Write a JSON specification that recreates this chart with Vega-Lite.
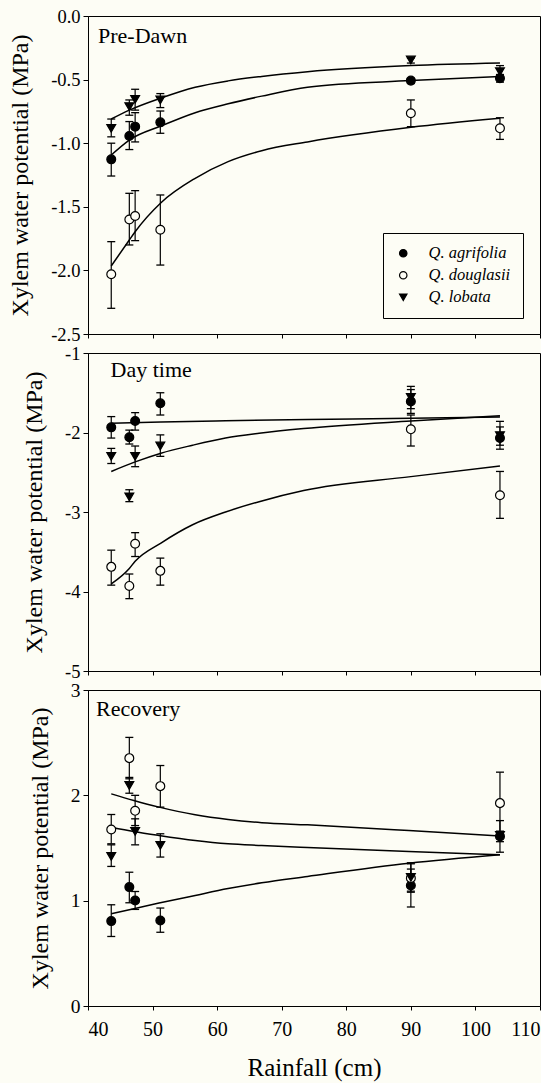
{
  "$schema": "https://vega.github.io/schema/vega-lite/v6.json",
  "background": "#fdfdf5",
  "padding": {"left": 8, "top": 6, "right": 0, "bottom": 2},
  "spacing": 19,
  "bounds": "flush",
  "config": {
    "view": {"stroke": "black", "strokeWidth": 1},
    "font": "Liberation Serif",
    "axis": {"domainColor": "black", "tickColor": "black", "labelColor": "black", "titleColor": "black", "grid": false, "labelFont": "Liberation Serif", "titleFont": "Liberation Serif", "labelFontSize": 18.5, "titleFontSize": 24, "titleFontWeight": "normal", "tickSize": 5, "labelPadding": 3, "domainWidth": 1}
  },
  "resolve": {
    "scale": {"x": "independent", "y": "independent", "fill": "independent", "shape": "independent", "stroke": "independent"},
    "legend": {"fill": "independent", "shape": "independent", "stroke": "independent"}
  },
  "datasets": {
    "obs": [
      {"panel": "Pre-Dawn", "species": "Q. agrifolia", "rain": 43.6, "psi": -1.127, "lo": -1.258, "hi": -1.0},
      {"panel": "Pre-Dawn", "species": "Q. agrifolia", "rain": 46.4, "psi": -0.943, "lo": -1.05, "hi": -0.83},
      {"panel": "Pre-Dawn", "species": "Q. agrifolia", "rain": 47.3, "psi": -0.87, "lo": -0.99, "hi": -0.76},
      {"panel": "Pre-Dawn", "species": "Q. agrifolia", "rain": 51.2, "psi": -0.836, "lo": -0.922, "hi": -0.747},
      {"panel": "Pre-Dawn", "species": "Q. agrifolia", "rain": 90.0, "psi": -0.508, "lo": -0.53, "hi": -0.49},
      {"panel": "Pre-Dawn", "species": "Q. agrifolia", "rain": 103.8, "psi": -0.49, "lo": -0.52, "hi": -0.46},
      {"panel": "Pre-Dawn", "species": "Q. douglasii", "rain": 43.6, "psi": -2.03, "lo": -2.298, "hi": -1.774},
      {"panel": "Pre-Dawn", "species": "Q. douglasii", "rain": 46.4, "psi": -1.6, "lo": -1.8, "hi": -1.394},
      {"panel": "Pre-Dawn", "species": "Q. douglasii", "rain": 47.3, "psi": -1.572, "lo": -1.766, "hi": -1.373},
      {"panel": "Pre-Dawn", "species": "Q. douglasii", "rain": 51.2, "psi": -1.68, "lo": -1.958, "hi": -1.407},
      {"panel": "Pre-Dawn", "species": "Q. douglasii", "rain": 90.0, "psi": -0.765, "lo": -0.87, "hi": -0.66},
      {"panel": "Pre-Dawn", "species": "Q. douglasii", "rain": 103.8, "psi": -0.883, "lo": -0.97, "hi": -0.8},
      {"panel": "Pre-Dawn", "species": "Q. lobata", "rain": 43.6, "psi": -0.883, "lo": -0.95, "hi": -0.81},
      {"panel": "Pre-Dawn", "species": "Q. lobata", "rain": 46.4, "psi": -0.713, "lo": -0.78, "hi": -0.66},
      {"panel": "Pre-Dawn", "species": "Q. lobata", "rain": 47.3, "psi": -0.655, "lo": -0.74, "hi": -0.576},
      {"panel": "Pre-Dawn", "species": "Q. lobata", "rain": 51.2, "psi": -0.66, "lo": -0.72, "hi": -0.61},
      {"panel": "Pre-Dawn", "species": "Q. lobata", "rain": 90.0, "psi": -0.346, "lo": -0.37, "hi": -0.33},
      {"panel": "Pre-Dawn", "species": "Q. lobata", "rain": 103.8, "psi": -0.438, "lo": -0.48, "hi": -0.39},

      {"panel": "Day time", "species": "Q. agrifolia", "rain": 43.6, "psi": -1.935, "lo": -2.07, "hi": -1.8},
      {"panel": "Day time", "species": "Q. agrifolia", "rain": 46.4, "psi": -2.06, "lo": -2.145, "hi": -1.97},
      {"panel": "Day time", "species": "Q. agrifolia", "rain": 47.3, "psi": -1.855, "lo": -1.97, "hi": -1.75},
      {"panel": "Day time", "species": "Q. agrifolia", "rain": 51.2, "psi": -1.633, "lo": -1.78, "hi": -1.5},
      {"panel": "Day time", "species": "Q. agrifolia", "rain": 90.0, "psi": -1.61, "lo": -1.76, "hi": -1.46},
      {"panel": "Day time", "species": "Q. agrifolia", "rain": 103.8, "psi": -2.07, "lo": -2.21, "hi": -1.93},
      {"panel": "Day time", "species": "Q. douglasii", "rain": 43.6, "psi": -3.69, "lo": -3.92, "hi": -3.48},
      {"panel": "Day time", "species": "Q. douglasii", "rain": 46.4, "psi": -3.93, "lo": -4.09, "hi": -3.78},
      {"panel": "Day time", "species": "Q. douglasii", "rain": 47.3, "psi": -3.4, "lo": -3.56, "hi": -3.26},
      {"panel": "Day time", "species": "Q. douglasii", "rain": 51.2, "psi": -3.74, "lo": -3.92, "hi": -3.58},
      {"panel": "Day time", "species": "Q. douglasii", "rain": 90.0, "psi": -1.96, "lo": -2.17, "hi": -1.78},
      {"panel": "Day time", "species": "Q. douglasii", "rain": 103.8, "psi": -2.79, "lo": -3.08, "hi": -2.49},
      {"panel": "Day time", "species": "Q. lobata", "rain": 43.6, "psi": -2.3, "lo": -2.39, "hi": -2.2},
      {"panel": "Day time", "species": "Q. lobata", "rain": 46.4, "psi": -2.81, "lo": -2.87, "hi": -2.72},
      {"panel": "Day time", "species": "Q. lobata", "rain": 47.3, "psi": -2.3, "lo": -2.43, "hi": -2.17},
      {"panel": "Day time", "species": "Q. lobata", "rain": 51.2, "psi": -2.17, "lo": -2.3, "hi": -2.03},
      {"panel": "Day time", "species": "Q. lobata", "rain": 90.0, "psi": -1.56, "lo": -1.7, "hi": -1.42},
      {"panel": "Day time", "species": "Q. lobata", "rain": 103.8, "psi": -2.04, "lo": -2.16, "hi": -1.86},

      {"panel": "Recovery", "species": "Q. agrifolia", "rain": 43.6, "psi": 0.806, "lo": 0.66, "hi": 0.961},
      {"panel": "Recovery", "species": "Q. agrifolia", "rain": 46.4, "psi": 1.129, "lo": 0.98, "hi": 1.27},
      {"panel": "Recovery", "species": "Q. agrifolia", "rain": 47.3, "psi": 1.002, "lo": 0.917, "hi": 1.087},
      {"panel": "Recovery", "species": "Q. agrifolia", "rain": 51.2, "psi": 0.812, "lo": 0.7, "hi": 0.93},
      {"panel": "Recovery", "species": "Q. agrifolia", "rain": 90.0, "psi": 1.144, "lo": 0.94, "hi": 1.3},
      {"panel": "Recovery", "species": "Q. agrifolia", "rain": 103.8, "psi": 1.61, "lo": 1.56, "hi": 1.66},
      {"panel": "Recovery", "species": "Q. douglasii", "rain": 43.6, "psi": 1.676, "lo": 1.54, "hi": 1.818},
      {"panel": "Recovery", "species": "Q. douglasii", "rain": 46.4, "psi": 2.353, "lo": 2.157, "hi": 2.55},
      {"panel": "Recovery", "species": "Q. douglasii", "rain": 47.3, "psi": 1.853, "lo": 1.713, "hi": 2.0},
      {"panel": "Recovery", "species": "Q. douglasii", "rain": 51.2, "psi": 2.087, "lo": 1.888, "hi": 2.283},
      {"panel": "Recovery", "species": "Q. douglasii", "rain": 90.0, "psi": 1.214, "lo": 1.08, "hi": 1.36},
      {"panel": "Recovery", "species": "Q. douglasii", "rain": 103.8, "psi": 1.926, "lo": 1.635, "hi": 2.22},
      {"panel": "Recovery", "species": "Q. lobata", "rain": 43.6, "psi": 1.42, "lo": 1.325, "hi": 1.53},
      {"panel": "Recovery", "species": "Q. lobata", "rain": 46.4, "psi": 2.093, "lo": 2.02, "hi": 2.17},
      {"panel": "Recovery", "species": "Q. lobata", "rain": 47.3, "psi": 1.657, "lo": 1.53, "hi": 1.777},
      {"panel": "Recovery", "species": "Q. lobata", "rain": 51.2, "psi": 1.524, "lo": 1.414, "hi": 1.635},
      {"panel": "Recovery", "species": "Q. lobata", "rain": 90.0, "psi": 1.22, "lo": 1.09, "hi": 1.35},
      {"panel": "Recovery", "species": "Q. lobata", "rain": 103.8, "psi": 1.62, "lo": 1.46, "hi": 1.76}
    ],
    "fit": [
      {"panel": "Pre-Dawn", "species": "Q. agrifolia", "rain": 43.6, "psi": -1.093},
      {"panel": "Pre-Dawn", "species": "Q. agrifolia", "rain": 46.4, "psi": -0.975},
      {"panel": "Pre-Dawn", "species": "Q. agrifolia", "rain": 51.3, "psi": -0.865},
      {"panel": "Pre-Dawn", "species": "Q. agrifolia", "rain": 56.6, "psi": -0.76},
      {"panel": "Pre-Dawn", "species": "Q. agrifolia", "rain": 61.7, "psi": -0.69},
      {"panel": "Pre-Dawn", "species": "Q. agrifolia", "rain": 66.9, "psi": -0.63},
      {"panel": "Pre-Dawn", "species": "Q. agrifolia", "rain": 74.0, "psi": -0.56},
      {"panel": "Pre-Dawn", "species": "Q. agrifolia", "rain": 90.0, "psi": -0.508},
      {"panel": "Pre-Dawn", "species": "Q. agrifolia", "rain": 103.8, "psi": -0.475},
      {"panel": "Pre-Dawn", "species": "Q. douglasii", "rain": 43.6, "psi": -1.965},
      {"panel": "Pre-Dawn", "species": "Q. douglasii", "rain": 46.4, "psi": -1.761},
      {"panel": "Pre-Dawn", "species": "Q. douglasii", "rain": 47.3, "psi": -1.696},
      {"panel": "Pre-Dawn", "species": "Q. douglasii", "rain": 51.3, "psi": -1.468},
      {"panel": "Pre-Dawn", "species": "Q. douglasii", "rain": 56.6, "psi": -1.276},
      {"panel": "Pre-Dawn", "species": "Q. douglasii", "rain": 61.7, "psi": -1.145},
      {"panel": "Pre-Dawn", "species": "Q. douglasii", "rain": 66.9, "psi": -1.059},
      {"panel": "Pre-Dawn", "species": "Q. douglasii", "rain": 74.0, "psi": -0.99},
      {"panel": "Pre-Dawn", "species": "Q. douglasii", "rain": 90.0, "psi": -0.875},
      {"panel": "Pre-Dawn", "species": "Q. douglasii", "rain": 103.8, "psi": -0.804},
      {"panel": "Pre-Dawn", "species": "Q. lobata", "rain": 43.6, "psi": -0.81},
      {"panel": "Pre-Dawn", "species": "Q. lobata", "rain": 46.4, "psi": -0.74},
      {"panel": "Pre-Dawn", "species": "Q. lobata", "rain": 51.3, "psi": -0.645},
      {"panel": "Pre-Dawn", "species": "Q. lobata", "rain": 56.6, "psi": -0.56},
      {"panel": "Pre-Dawn", "species": "Q. lobata", "rain": 61.7, "psi": -0.51},
      {"panel": "Pre-Dawn", "species": "Q. lobata", "rain": 66.9, "psi": -0.475},
      {"panel": "Pre-Dawn", "species": "Q. lobata", "rain": 74.0, "psi": -0.438},
      {"panel": "Pre-Dawn", "species": "Q. lobata", "rain": 90.0, "psi": -0.39},
      {"panel": "Pre-Dawn", "species": "Q. lobata", "rain": 103.8, "psi": -0.37},

      {"panel": "Day time", "species": "Q. agrifolia", "rain": 43.6, "psi": -1.885},
      {"panel": "Day time", "species": "Q. agrifolia", "rain": 51.3, "psi": -1.868},
      {"panel": "Day time", "species": "Q. agrifolia", "rain": 61.3, "psi": -1.852},
      {"panel": "Day time", "species": "Q. agrifolia", "rain": 74.0, "psi": -1.838},
      {"panel": "Day time", "species": "Q. agrifolia", "rain": 90.0, "psi": -1.822},
      {"panel": "Day time", "species": "Q. agrifolia", "rain": 103.8, "psi": -1.805},
      {"panel": "Day time", "species": "Q. douglasii", "rain": 43.6, "psi": -3.905},
      {"panel": "Day time", "species": "Q. douglasii", "rain": 46.4, "psi": -3.71},
      {"panel": "Day time", "species": "Q. douglasii", "rain": 47.3, "psi": -3.62},
      {"panel": "Day time", "species": "Q. douglasii", "rain": 51.3, "psi": -3.39},
      {"panel": "Day time", "species": "Q. douglasii", "rain": 56.2, "psi": -3.16},
      {"panel": "Day time", "species": "Q. douglasii", "rain": 61.3, "psi": -3.0},
      {"panel": "Day time", "species": "Q. douglasii", "rain": 66.5, "psi": -2.87},
      {"panel": "Day time", "species": "Q. douglasii", "rain": 73.4, "psi": -2.73},
      {"panel": "Day time", "species": "Q. douglasii", "rain": 90.0, "psi": -2.555},
      {"panel": "Day time", "species": "Q. douglasii", "rain": 103.8, "psi": -2.42},
      {"panel": "Day time", "species": "Q. lobata", "rain": 43.6, "psi": -2.49},
      {"panel": "Day time", "species": "Q. lobata", "rain": 47.3, "psi": -2.37},
      {"panel": "Day time", "species": "Q. lobata", "rain": 51.3, "psi": -2.26},
      {"panel": "Day time", "species": "Q. lobata", "rain": 56.2, "psi": -2.16},
      {"panel": "Day time", "species": "Q. lobata", "rain": 61.3, "psi": -2.07},
      {"panel": "Day time", "species": "Q. lobata", "rain": 66.5, "psi": -2.01},
      {"panel": "Day time", "species": "Q. lobata", "rain": 73.4, "psi": -1.95},
      {"panel": "Day time", "species": "Q. lobata", "rain": 90.0, "psi": -1.855},
      {"panel": "Day time", "species": "Q. lobata", "rain": 103.8, "psi": -1.79},

      {"panel": "Recovery", "species": "Q. agrifolia", "rain": 43.6, "psi": 0.876},
      {"panel": "Recovery", "species": "Q. agrifolia", "rain": 47.1, "psi": 0.923},
      {"panel": "Recovery", "species": "Q. agrifolia", "rain": 51.0, "psi": 0.977},
      {"panel": "Recovery", "species": "Q. agrifolia", "rain": 56.6, "psi": 1.05},
      {"panel": "Recovery", "species": "Q. agrifolia", "rain": 61.7, "psi": 1.115},
      {"panel": "Recovery", "species": "Q. agrifolia", "rain": 66.9, "psi": 1.17},
      {"panel": "Recovery", "species": "Q. agrifolia", "rain": 74.0, "psi": 1.23},
      {"panel": "Recovery", "species": "Q. agrifolia", "rain": 89.7, "psi": 1.355},
      {"panel": "Recovery", "species": "Q. agrifolia", "rain": 103.8, "psi": 1.435},
      {"panel": "Recovery", "species": "Q. douglasii", "rain": 43.6, "psi": 2.014},
      {"panel": "Recovery", "species": "Q. douglasii", "rain": 47.1, "psi": 1.951},
      {"panel": "Recovery", "species": "Q. douglasii", "rain": 51.0, "psi": 1.888},
      {"panel": "Recovery", "species": "Q. douglasii", "rain": 56.6, "psi": 1.815},
      {"panel": "Recovery", "species": "Q. douglasii", "rain": 61.7, "psi": 1.77},
      {"panel": "Recovery", "species": "Q. douglasii", "rain": 66.9, "psi": 1.74},
      {"panel": "Recovery", "species": "Q. douglasii", "rain": 74.0, "psi": 1.72},
      {"panel": "Recovery", "species": "Q. douglasii", "rain": 89.7, "psi": 1.666},
      {"panel": "Recovery", "species": "Q. douglasii", "rain": 103.8, "psi": 1.613},
      {"panel": "Recovery", "species": "Q. lobata", "rain": 43.6, "psi": 1.698},
      {"panel": "Recovery", "species": "Q. lobata", "rain": 47.1, "psi": 1.657},
      {"panel": "Recovery", "species": "Q. lobata", "rain": 51.0, "psi": 1.619},
      {"panel": "Recovery", "species": "Q. lobata", "rain": 56.6, "psi": 1.571},
      {"panel": "Recovery", "species": "Q. lobata", "rain": 61.7, "psi": 1.54},
      {"panel": "Recovery", "species": "Q. lobata", "rain": 66.9, "psi": 1.524},
      {"panel": "Recovery", "species": "Q. lobata", "rain": 74.0, "psi": 1.505},
      {"panel": "Recovery", "species": "Q. lobata", "rain": 89.7, "psi": 1.467},
      {"panel": "Recovery", "species": "Q. lobata", "rain": 103.8, "psi": 1.435}
    ],
    "labels": [
      {"panel": "Pre-Dawn", "rain": 41.55, "psi": -0.212, "label": "Pre-Dawn"},
      {"panel": "Day time", "rain": 43.5, "psi": -1.308, "label": "Day time"},
      {"panel": "Recovery", "rain": 41.25, "psi": 2.753, "label": "Recovery"}
    ]
  },
  "vconcat": [
    {
      "width": 452, "height": 318,
      "layer": [
        {"data": {"name": "fit"}, "transform": [{"filter": "datum.panel == 'Pre-Dawn'"}],
         "mark": {"type": "line", "color": "black", "strokeWidth": 1.5, "interpolate": "monotone"},
         "encoding": {
           "x": {"field": "rain", "type": "quantitative", "scale": {"domain": [40, 110], "nice": false},
                 "axis": {"values": [40, 50, 60, 70, 80, 90, 100, 110], "labels": false, "title": null, "tickSize": 4}},
           "y": {"field": "psi", "type": "quantitative", "scale": {"domain": [-2.5, 0], "nice": false, "zero": false},
                 "axis": {"values": [-2.5, -2, -1.5, -1, -0.5, 0], "format": ".1f", "labelExpr": "replace(datum.label, '\u2212', '-')", "title": "Xylem water potential (MPa)", "titlePadding": 18, "labelFont": "Liberation Serif", "titleFont": "Liberation Serif"}},
           "detail": {"field": "species"}
         }},
        {"data": {"name": "obs"}, "transform": [{"filter": "datum.panel == 'Pre-Dawn'"}],
         "mark": {"type": "rule", "color": "black", "strokeWidth": 1.2},
         "encoding": {"x": {"field": "rain", "type": "quantitative"}, "y": {"field": "lo", "type": "quantitative"}, "y2": {"field": "hi"}}},
        {"data": {"name": "obs"}, "transform": [{"filter": "datum.panel == 'Pre-Dawn'"}],
         "mark": {"type": "tick", "orient": "horizontal", "size": 8, "thickness": 1.3, "color": "black", "opacity": 1},
         "encoding": {"x": {"field": "rain", "type": "quantitative"}, "y": {"field": "lo", "type": "quantitative"}}},
        {"data": {"name": "obs"}, "transform": [{"filter": "datum.panel == 'Pre-Dawn'"}],
         "mark": {"type": "tick", "orient": "horizontal", "size": 8, "thickness": 1.3, "color": "black", "opacity": 1},
         "encoding": {"x": {"field": "rain", "type": "quantitative"}, "y": {"field": "hi", "type": "quantitative"}}},
        {"data": {"name": "obs"}, "transform": [{"filter": "datum.panel == 'Pre-Dawn'"}],
         "mark": {"type": "point", "filled": true, "strokeWidth": 1.2, "size": 78, "opacity": 1},
         "encoding": {
           "x": {"field": "rain", "type": "quantitative"},
           "y": {"field": "psi", "type": "quantitative"},
           "shape": {"field": "species", "type": "nominal", "scale": {"domain": ["Q. agrifolia", "Q. douglasii", "Q. lobata"], "range": ["circle", "circle", "triangle-down"]},
                     "legend": {"orient": "none", "legendX": 295, "legendY": 217, "title": null, "strokeColor": "black", "padding": 12, "labelFont": "Liberation Serif", "labelFontSize": 16.5, "labelFontStyle": "italic", "labelColor": "black", "symbolStrokeWidth": 1.2, "symbolSize": 55, "rowPadding": 5, "labelOffset": 17}},
           "fill": {"field": "species", "type": "nominal", "scale": {"domain": ["Q. agrifolia", "Q. douglasii", "Q. lobata"], "range": ["black", "#fdfdf5", "black"]},
                     "legend": {"orient": "none", "legendX": 295, "legendY": 217, "title": null, "strokeColor": "black", "padding": 12, "labelFont": "Liberation Serif", "labelFontSize": 16.5, "labelFontStyle": "italic", "labelColor": "black", "symbolStrokeWidth": 1.2, "symbolSize": 55, "rowPadding": 5, "labelOffset": 17}},
           "stroke": {"field": "species", "type": "nominal", "scale": {"domain": ["Q. agrifolia", "Q. douglasii", "Q. lobata"], "range": ["black", "black", "black"]},
                     "legend": {"orient": "none", "legendX": 295, "legendY": 217, "title": null, "strokeColor": "black", "padding": 12, "labelFont": "Liberation Serif", "labelFontSize": 16.5, "labelFontStyle": "italic", "labelColor": "black", "symbolStrokeWidth": 1.2, "symbolSize": 55, "rowPadding": 5, "labelOffset": 17}}
         }},
        {"data": {"name": "labels"}, "transform": [{"filter": "datum.panel == 'Pre-Dawn'"}],
         "mark": {"type": "text", "align": "left", "baseline": "alphabetic", "fontSize": 22, "font": "Liberation Serif", "color": "black"},
         "encoding": {"x": {"field": "rain", "type": "quantitative"}, "y": {"field": "psi", "type": "quantitative"}, "text": {"field": "label"}}}
      ]
    },
    {
      "width": 452, "height": 318,
      "layer": [
        {"data": {"name": "fit"}, "transform": [{"filter": "datum.panel == 'Day time'"}],
         "mark": {"type": "line", "color": "black", "strokeWidth": 1.5, "interpolate": "monotone"},
         "encoding": {
           "x": {"field": "rain", "type": "quantitative", "scale": {"domain": [40, 110], "nice": false},
                 "axis": {"values": [40, 50, 60, 70, 80, 90, 100, 110], "labels": false, "title": null, "tickSize": 4}},
           "y": {"field": "psi", "type": "quantitative", "scale": {"domain": [-5, -1], "nice": false, "zero": false},
                 "axis": {"values": [-5, -4, -3, -2, -1], "format": "d", "labelExpr": "replace(datum.label, '\u2212', '-')", "title": "Xylem water potential (MPa)", "titlePadding": 18, "labelFont": "Liberation Serif", "titleFont": "Liberation Serif"}},
           "detail": {"field": "species"}
         }},
        {"data": {"name": "obs"}, "transform": [{"filter": "datum.panel == 'Day time'"}],
         "mark": {"type": "rule", "color": "black", "strokeWidth": 1.2},
         "encoding": {"x": {"field": "rain", "type": "quantitative"}, "y": {"field": "lo", "type": "quantitative"}, "y2": {"field": "hi"}}},
        {"data": {"name": "obs"}, "transform": [{"filter": "datum.panel == 'Day time'"}],
         "mark": {"type": "tick", "orient": "horizontal", "size": 8, "thickness": 1.3, "color": "black", "opacity": 1},
         "encoding": {"x": {"field": "rain", "type": "quantitative"}, "y": {"field": "lo", "type": "quantitative"}}},
        {"data": {"name": "obs"}, "transform": [{"filter": "datum.panel == 'Day time'"}],
         "mark": {"type": "tick", "orient": "horizontal", "size": 8, "thickness": 1.3, "color": "black", "opacity": 1},
         "encoding": {"x": {"field": "rain", "type": "quantitative"}, "y": {"field": "hi", "type": "quantitative"}}},
        {"data": {"name": "obs"}, "transform": [{"filter": "datum.panel == 'Day time'"}],
         "mark": {"type": "point", "filled": true, "stroke": "black", "strokeWidth": 1.2, "size": 78, "opacity": 1},
         "encoding": {
           "x": {"field": "rain", "type": "quantitative"},
           "y": {"field": "psi", "type": "quantitative"},
           "shape": {"field": "species", "type": "nominal", "scale": {"domain": ["Q. agrifolia", "Q. douglasii", "Q. lobata"], "range": ["circle", "circle", "triangle-down"]}, "legend": null},
           "fill": {"field": "species", "type": "nominal", "scale": {"domain": ["Q. agrifolia", "Q. douglasii", "Q. lobata"], "range": ["black", "#fdfdf5", "black"]}, "legend": null}
         }},
        {"data": {"name": "labels"}, "transform": [{"filter": "datum.panel == 'Day time'"}],
         "mark": {"type": "text", "align": "left", "baseline": "alphabetic", "fontSize": 22, "font": "Liberation Serif", "color": "black"},
         "encoding": {"x": {"field": "rain", "type": "quantitative"}, "y": {"field": "psi", "type": "quantitative"}, "text": {"field": "label"}}}
      ]
    },
    {
      "width": 452, "height": 316,
      "layer": [
        {"data": {"name": "fit"}, "transform": [{"filter": "datum.panel == 'Recovery'"}],
         "mark": {"type": "line", "color": "black", "strokeWidth": 1.5, "interpolate": "monotone"},
         "encoding": {
           "x": {"field": "rain", "type": "quantitative", "scale": {"domain": [40, 110], "nice": false},
                 "axis": {"values": [40, 50, 60, 70, 80, 90, 100, 110], "title": "Rainfall (cm)", "tickSize": 4, "labelPadding": 9, "labelFontSize": 20, "titleFontSize": 25, "titlePadding": 16, "labelFont": "Liberation Serif", "titleFont": "Liberation Serif"}},
           "y": {"field": "psi", "type": "quantitative", "scale": {"domain": [0, 3], "nice": false},
                 "axis": {"values": [0, 1, 2, 3], "format": "d", "title": "Xylem water potential (MPa)", "titlePadding": 18, "labelFontSize": 19.5, "labelFont": "Liberation Serif", "titleFont": "Liberation Serif"}},
           "detail": {"field": "species"}
         }},
        {"data": {"name": "obs"}, "transform": [{"filter": "datum.panel == 'Recovery'"}],
         "mark": {"type": "rule", "color": "black", "strokeWidth": 1.2},
         "encoding": {"x": {"field": "rain", "type": "quantitative"}, "y": {"field": "lo", "type": "quantitative"}, "y2": {"field": "hi"}}},
        {"data": {"name": "obs"}, "transform": [{"filter": "datum.panel == 'Recovery'"}],
         "mark": {"type": "tick", "orient": "horizontal", "size": 8, "thickness": 1.3, "color": "black", "opacity": 1},
         "encoding": {"x": {"field": "rain", "type": "quantitative"}, "y": {"field": "lo", "type": "quantitative"}}},
        {"data": {"name": "obs"}, "transform": [{"filter": "datum.panel == 'Recovery'"}],
         "mark": {"type": "tick", "orient": "horizontal", "size": 8, "thickness": 1.3, "color": "black", "opacity": 1},
         "encoding": {"x": {"field": "rain", "type": "quantitative"}, "y": {"field": "hi", "type": "quantitative"}}},
        {"data": {"name": "obs"}, "transform": [{"filter": "datum.panel == 'Recovery'"}],
         "mark": {"type": "point", "filled": true, "stroke": "black", "strokeWidth": 1.2, "size": 78, "opacity": 1},
         "encoding": {
           "x": {"field": "rain", "type": "quantitative"},
           "y": {"field": "psi", "type": "quantitative"},
           "shape": {"field": "species", "type": "nominal", "scale": {"domain": ["Q. agrifolia", "Q. douglasii", "Q. lobata"], "range": ["circle", "circle", "triangle-down"]}, "legend": null},
           "fill": {"field": "species", "type": "nominal", "scale": {"domain": ["Q. agrifolia", "Q. douglasii", "Q. lobata"], "range": ["black", "#fdfdf5", "black"]}, "legend": null}
         }},
        {"data": {"name": "labels"}, "transform": [{"filter": "datum.panel == 'Recovery'"}],
         "mark": {"type": "text", "align": "left", "baseline": "alphabetic", "fontSize": 22, "font": "Liberation Serif", "color": "black"},
         "encoding": {"x": {"field": "rain", "type": "quantitative"}, "y": {"field": "psi", "type": "quantitative"}, "text": {"field": "label"}}}
      ]
    }
  ]
}
